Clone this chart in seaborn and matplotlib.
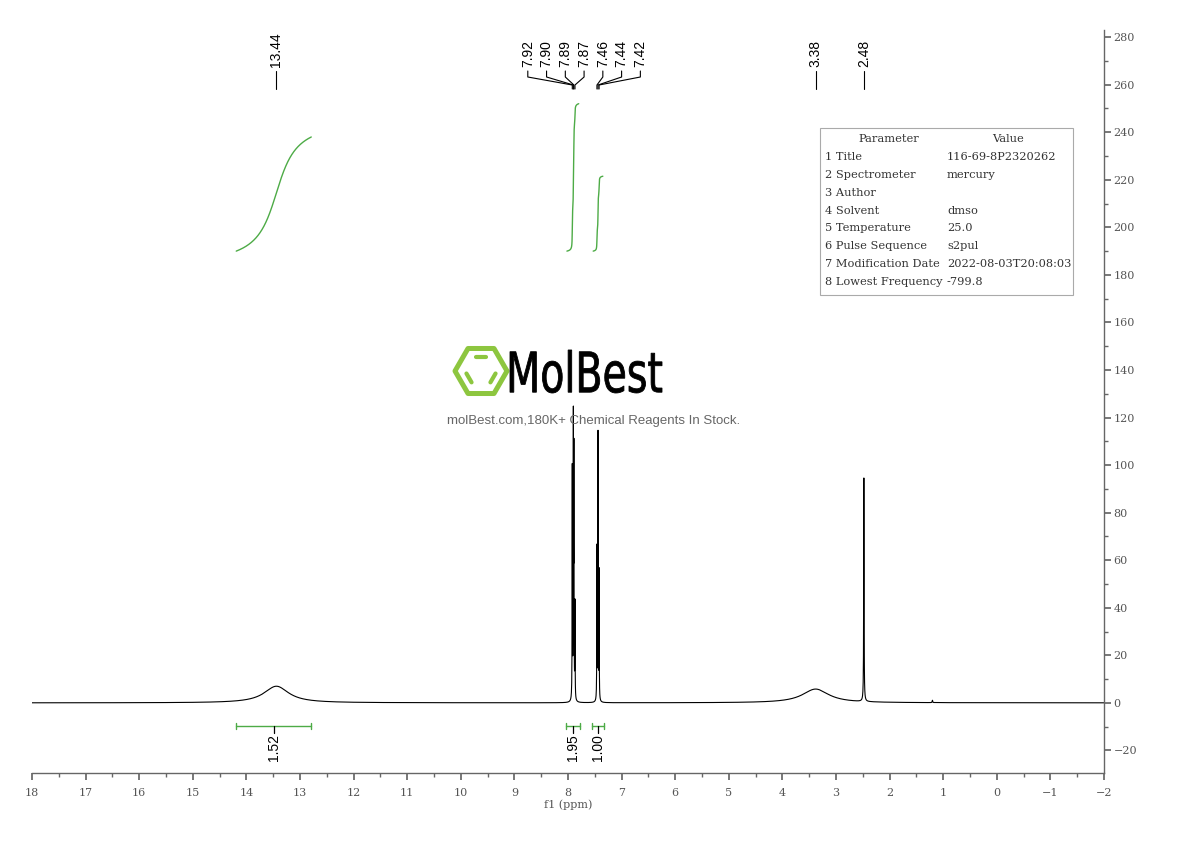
import numpy as np
import pandas as pd
import matplotlib
matplotlib.use("Agg")
import matplotlib.pyplot as plt
import seaborn as sns
from matplotlib.ticker import MultipleLocator
from matplotlib.textpath import TextPath
from matplotlib.patches import PathPatch, Polygon, Rectangle
from matplotlib.font_manager import FontProperties
from matplotlib.transforms import Affine2D, blended_transform_factory
from matplotlib.lines import Line2D

# ---------------- data ----------------
peak_ppm = [13.44, 7.92, 7.90, 7.89, 7.87, 7.46, 7.44, 7.42, 3.38, 2.48, 1.20]
peak_height = [7.0, 97, 114, 100, 40, 64, 112, 54, 5.8, 94, 1.0]
peak_hwhm = [0.28, 0.003, 0.003, 0.003, 0.003, 0.003, 0.003, 0.003, 0.30, 0.004, 0.005]

label_ppm = [13.44, 7.92, 7.90, 7.89, 7.87, 7.46, 7.44, 7.42, 3.38, 2.48]
label_text = ["13.44", "7.92", "7.90", "7.89", "7.87", "7.46", "7.44", "7.42", "3.38", "2.48"]

integ_from = [14.19, 8.02, 7.53]
integ_to = [12.79, 7.80, 7.35]
integ_curve_start = [190, 190, 190]
integ_curve_end = [238, 252, 221.5]
bracket_from = [14.19, 8.04, 7.55]
bracket_to = [12.79, 7.78, 7.33]
integ_values = ["1.52", "1.95", "1.00"]

param_names = ["1 Title", "2 Spectrometer", "3 Author", "4 Solvent", "5 Temperature",
               "6 Pulse Sequence", "7 Modification Date", "8 Lowest Frequency"]
param_values = ["116-69-8P2320262", "mercury", "", "dmso", "25.0", "s2pul",
                "2022-08-03T20:08:03", "-799.8"]

x_ticks = list(range(-2, 19))
y_ticks = list(range(-20, 281, 20))

# ---------------- spectrum ----------------
ppm = np.linspace(-2, 18, 40001)
spec = np.zeros_like(ppm)
for c, h, w in zip(peak_ppm, peak_height, peak_hwhm):
    spec += h * w**2 / ((ppm - c) ** 2 + w**2)
df = pd.DataFrame({"ppm": ppm, "intensity": spec})

# ---------------- figure ----------------
sns.set_theme(style="white")
plt.rcParams["font.family"] = ["DejaVu Sans"]
W, H = 1190, 841
fig = plt.figure(figsize=(W / 100, H / 100), dpi=100)
ax = fig.add_axes([32 / W, 1 - 773 / H, (1104 - 32) / W, (773 - 30) / H])

def fpx(x, y):
    return (x / W, 1 - y / H)

sns.lineplot(data=df, x="ppm", y="intensity", ax=ax, color="black", lw=0.8,
             estimator=None, sort=False)

green = "#4dab46"
# integral curves
for lo, hi, s, e in zip(integ_from, integ_to, integ_curve_start, integ_curve_end):
    m = (ppm <= lo) & (ppm >= hi)
    xs = ppm[m][::-1]
    ys = spec[m][::-1]
    cum = np.cumsum(ys)
    nrm = (cum - cum[0]) / (cum[-1] - cum[0])
    sns.lineplot(x=xs, y=s + nrm * (e - s), ax=ax, color=green, lw=1.0,
                 estimator=None, sort=False)

# integration brackets
yb = -9.7
for lo, hi, val in zip(bracket_from, bracket_to, integ_values):
    ax.plot([lo, hi], [yb, yb], color=green, lw=1.0)
    for xe in (lo, hi):
        ax.plot([xe, xe], [yb - 1.4, yb + 1.4], color=green, lw=1.0)
    mid = (lo + hi) / 2
    ax.plot([mid, mid], [yb, yb - 3.0], color="black", lw=0.9)
    ax.text(mid, yb - 3.6, val, rotation=90, ha="center", va="top",
            fontsize=10, color="black", family="Liberation Sans")

# peak labels with simple overlap layout
spacing = 0.35
order = np.argsort(label_ppm)[::-1]
pk = np.array(label_ppm)[order]
clusters = [[i] for i in range(len(pk))]
def positions(cls):
    pos = np.zeros(len(pk))
    for cl in cls:
        cen = np.mean(pk[cl])
        n = len(cl)
        for j, idx in enumerate(cl):
            pos[idx] = cen + (n - 1) / 2 * spacing - j * spacing
    return pos
changed = True
while changed:
    changed = False
    pos = positions(clusters)
    for k in range(len(clusters) - 1):
        a, b = clusters[k], clusters[k + 1]
        if pos[a[-1]] - pos[b[0]] < spacing - 1e-9:
            clusters[k] = a + b
            del clusters[k + 1]
            changed = True
            break
pos = positions(clusters)
btr = blended_transform_factory(ax.transData, ax.transAxes)
def fa(ypix):
    return (773 - ypix) / 743
for k, idx in enumerate(order):
    lx = pos[k]
    px_ = pk[k]
    ax.text(lx, fa(67), label_text[idx], rotation=90, ha="center", va="bottom",
            fontsize=10, color="black", transform=btr, clip_on=False,
            family="Liberation Sans")
    ax.add_line(Line2D([lx, lx, px_, px_], [fa(71), fa(77), fa(85), fa(89)],
                       color="black", lw=0.8, transform=btr, clip_on=False))

# axes styling
ax.set_xlim(18, -2)
ax.set_ylim(-29.5, 283)
ax.set_xticks(x_ticks)
ax.set_yticks(y_ticks)
ax.xaxis.set_minor_locator(MultipleLocator(0.5))
ax.yaxis.set_minor_locator(MultipleLocator(10))
ax.yaxis.tick_right()
for s in ("left", "top"):
    ax.spines[s].set_visible(False)
for s in ("right", "bottom"):
    ax.spines[s].set_visible(True)
    ax.spines[s].set_color("#666666")
    ax.spines[s].set_linewidth(1.0)
ax.tick_params(axis="both", which="both", direction="out", colors="#666666",
               labelcolor="#555555", labelsize=8)
ax.tick_params(axis="x", which="major", length=5, pad=6, bottom=True)
ax.tick_params(axis="x", which="minor", length=3, bottom=True)
ax.tick_params(axis="y", which="major", length=5, pad=2, right=True, left=False)
ax.tick_params(axis="y", which="minor", length=3, right=True, left=False)
for lab in ax.get_xticklabels() + ax.get_yticklabels():
    lab.set_fontfamily("DejaVu Serif")
ax.set_ylabel("")
ax.set_xlabel("f1 (ppm)", fontsize=8, family="DejaVu Serif", color="#555555", labelpad=1)
ax.grid(False)

# parameter table
x0, y0, x1, y1 = 820, 128, 1073, 295
fig.patches.append(Rectangle(fpx(x0, y1), (x1 - x0) / W, (y1 - y0) / H,
                             transform=fig.transFigure, fill=False, ec="#aaaaaa", lw=0.8))
tf = dict(fontsize=8.2, family="DejaVu Serif", color="#333333", va="center")
fig.text(*fpx(889, 139), "Parameter", ha="center", **tf)
fig.text(*fpx(1008, 139), "Value", ha="center", **tf)
for i, (n, v) in enumerate(zip(param_names, param_values)):
    yy = 157 + 17.85 * i
    fig.text(*fpx(825, yy), n, ha="left", **tf)
    fig.text(*fpx(947, yy), v, ha="left", **tf)

# watermark logo
lg = "#8dc63f"
cx, cy, r = 481, 371, 26
ang = np.deg2rad(np.arange(0, 360, 60))
hexv = [fpx(cx + r * np.cos(a), cy - r * np.sin(a)) for a in ang]
fig.patches.append(Polygon(hexv, closed=True, fill=False, ec=lg, lw=3.6,
                           transform=fig.transFigure, joinstyle="round"))
ri = 16
for a1, a2 in ((60, 120), (180, 240), (300, 360)):
    p1 = np.array([cx + ri * np.cos(np.deg2rad(a1)), cy - ri * np.sin(np.deg2rad(a1))])
    p2 = np.array([cx + ri * np.cos(np.deg2rad(a2)), cy - ri * np.sin(np.deg2rad(a2))])
    q1 = p1 + 0.18 * (p2 - p1)
    q2 = p2 - 0.18 * (p2 - p1)
    a_, b_ = fpx(*q1), fpx(*q2)
    fig.lines.append(Line2D([a_[0], b_[0]], [a_[1], b_[1]], color=lg, lw=3.0,
                            solid_capstyle="round", transform=fig.transFigure))
tp = TextPath((0, 0), "MolBest", size=100, prop=FontProperties(family="DejaVu Sans", weight="normal"))
bb = tp.get_extents()
sx = 152 / bb.width
sy = 43 / bb.height
tr = (Affine2D().translate(-bb.x0, -bb.y0).scale(sx, sy).translate(510, H - 393)
      .scale(1 / W, 1 / H) + fig.transFigure)
fig.patches.append(PathPatch(tp, transform=tr, fc="black", ec="black", lw=0.6))
fig.text(*fpx(594, 421), "molBest.com,180K+ Chemical Reagents In Stock.", ha="center",
         va="center", fontsize=9.5, color="#666666", family="Liberation Sans")

fig.savefig("out.png", dpi=100)
